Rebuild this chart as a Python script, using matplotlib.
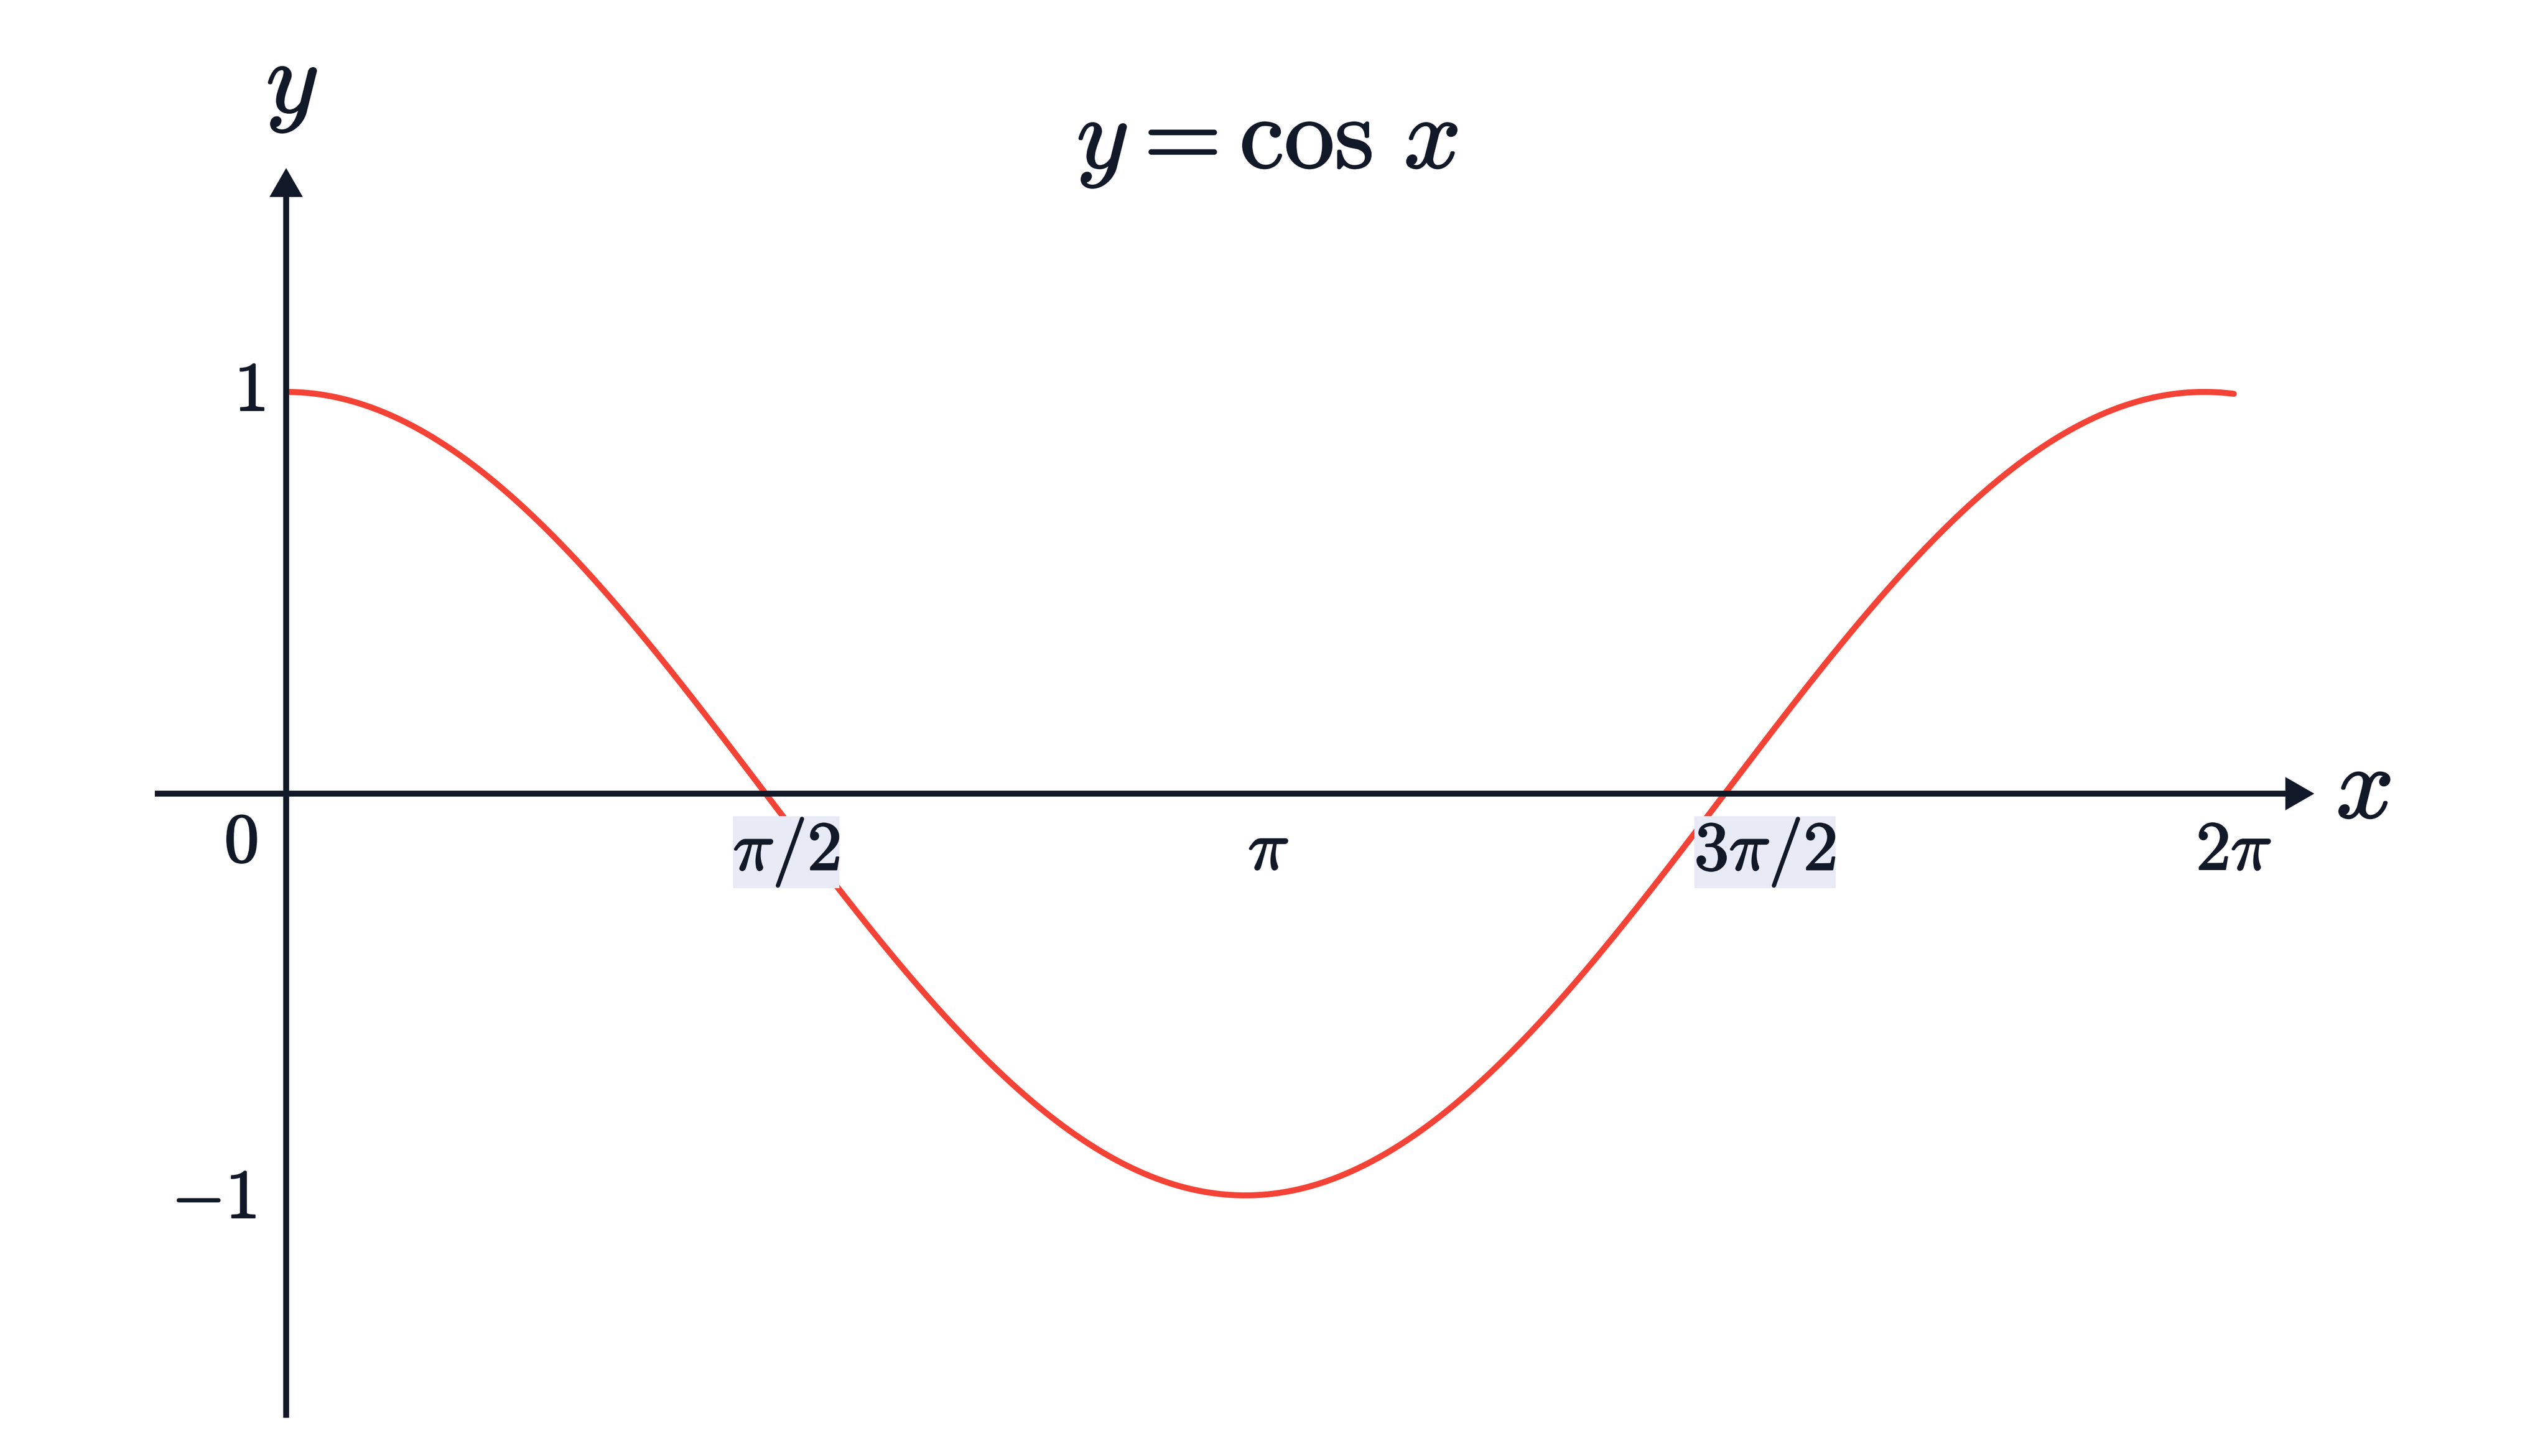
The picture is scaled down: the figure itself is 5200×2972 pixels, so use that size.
import numpy as np
import matplotlib.pyplot as plt
import matplotlib.patheffects as pe

plt.rcParams['mathtext.fontset'] = 'cm'

# Data
x_start, x_end = 0.0, 6.38
x_ticks = [np.pi / 2, np.pi, 3 * np.pi / 2, 2 * np.pi]
x_tick_labels = [r'$\pi/2$', r'$\pi$', r'$3\pi/2$', r'$2\pi$']
x_label_boxed = [True, False, True, False]
y_ticks = [1, -1]
y_tick_labels = [r'$1$', r'$-1$']
origin_label = r'$0$'
title = r'$y = \cos\,x$'

# Style
INK = '#111827'
RED = '#F44336'
BOX = '#E8EAF6'
W, H, DPI = 5200, 2972, 200
ox, oy = 584, 1620   # origin, pixels from top-left
sx, sy = 623, 820    # pixels per data unit
AXIS_LW = 4.3
CURVE_LW = 4.4
heavy = [pe.withStroke(linewidth=1.1, foreground=INK)]

# label nudges in pixels (dx, dy)
x_label_offsets = [(42, -155), (47, -155), (82, -155), (60, -155)]
y_label_offsets = [(-44, -38), (-62, -46)]
origin_offset = (-59, -139)


def px(xp, yp):
    # pixel position -> data position
    return (xp - ox) / sx, (oy - yp) / sy


fig = plt.figure(figsize=(W / DPI, H / DPI), dpi=DPI)
ax = fig.add_axes([0, 0, 1, 1])
ax.set_xlim(-ox / sx, (W - ox) / sx)
ax.set_ylim(-(H - oy) / sy, oy / sy)
ax.axis('off')

# Curve
x = np.linspace(x_start, x_end, 800)
ax.plot(x, np.cos(x), color=RED, lw=CURVE_LW, solid_capstyle='round', zorder=1)

# x axis with arrow
x0, _ = px(316, 0)
xb, _ = px(4664, 0)
xt, _ = px(4723, 0)
hw = 34 / sy
ax.plot([x0, xb], [0, 0], color=INK, lw=AXIS_LW, solid_capstyle='butt', zorder=2)
ax.fill([xb, xt, xb], [-hw, 0, hw], color=INK, lw=0, zorder=2)

# y axis with arrow
_, y0 = px(0, 2894)
_, yb = px(0, 402)
_, yt = px(0, 343)
hw = 34 / sx
ax.plot([0, 0], [y0, yb], color=INK, lw=AXIS_LW, solid_capstyle='butt', zorder=2)
ax.fill([-hw, 0, hw], [yb, yt, yb], color=INK, lw=0, zorder=2)

# Tick labels
for t, lbl, boxed, off in zip(x_ticks, x_tick_labels, x_label_boxed, x_label_offsets):
    bbox = dict(boxstyle='square,pad=0', fc=BOX, ec='none') if boxed else None
    ax.annotate(lbl, (t, 0), xytext=off, textcoords='offset pixels',
                ha='center', va='baseline', fontsize=51, color=INK,
                bbox=bbox, zorder=3, path_effects=heavy)

for v, lbl, off in zip(y_ticks, y_tick_labels, y_label_offsets):
    ax.annotate(lbl, (0, v), xytext=off, textcoords='offset pixels',
                ha='right', va='baseline', fontsize=51, color=INK, zorder=3,
                path_effects=heavy)

ax.annotate(origin_label, (0, 0), xytext=origin_offset, textcoords='offset pixels',
            ha='right', va='baseline', fontsize=51, color=INK, zorder=3,
            path_effects=heavy)

# Axis names and title
ax.text(*px(4823, 1670), r'$x$', ha='center', va='baseline', fontsize=75,
        color=INK, path_effects=heavy)
ax.text(*px(595, 230), r'$y$', ha='center', va='baseline', fontsize=75,
        color=INK, path_effects=heavy)
ax.text(*px(2586, 342), title, ha='center', va='baseline', fontsize=74,
        color=INK, path_effects=heavy)

fig.savefig('out.png', dpi=DPI, facecolor='white')
